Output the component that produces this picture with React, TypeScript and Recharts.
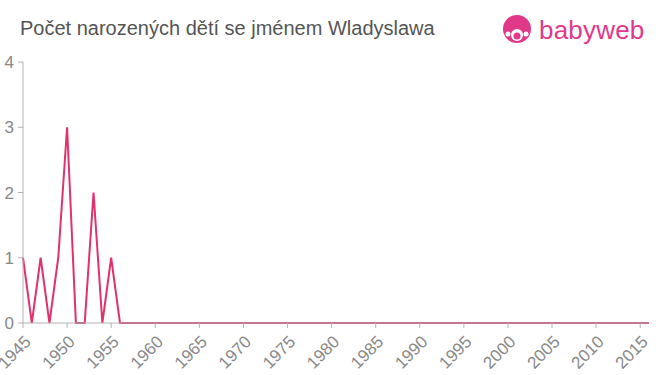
import { LineChart, Line, XAxis, YAxis } from 'recharts'

const years = Array.from({ length: 72 }, (_, i) => 1945 + i)
const births = [
  1, 0, 1, 0, 1, 3, 0, 0, 2, 0, 1, 0, 0, 0, 0, 0, 0, 0, 0, 0, 0, 0, 0, 0,
  0, 0, 0, 0, 0, 0, 0, 0, 0, 0, 0, 0, 0, 0, 0, 0, 0, 0, 0, 0, 0, 0, 0, 0,
  0, 0, 0, 0, 0, 0, 0, 0, 0, 0, 0, 0, 0, 0, 0, 0, 0, 0, 0, 0, 0, 0, 0, 0,
]
const xTicks = [1945, 1950, 1955, 1960, 1965, 1970, 1975, 1980, 1985, 1990, 1995, 2000, 2005, 2010, 2015]
const yTicks = [0, 1, 2, 3, 4]

const data = years.map((year, i) => ({ year, value: births[i] }))

const pink = '#e0336b'
const axisColor = '#b3b3b3'
const font = '"Liberation Sans", Arial, sans-serif'

function XTick({ x, y, payload }: any) {
  return (
    <text
      x={x + 5}
      y={y + 9}
      textAnchor="end"
      fill="#888"
      fontSize={17}
      fontFamily={font}
      transform={`rotate(-45, ${x + 5}, ${y + 9})`}
      dominantBaseline="central"
    >
      {payload.value}
    </text>
  )
}

function Logo() {
  return (
    <div style={{ position: 'absolute', left: 501, top: 14, display: 'flex', alignItems: 'center' }}>
      <svg width={32} height={32} viewBox="0 0 32 32">
        <circle cx={16} cy={15} r={14} fill="#e0398a" />
        <circle cx={16} cy={21} r={6} fill="#fff" />
        <circle cx={16} cy={22} r={3.5} fill="#e0398a" />
        <circle cx={7} cy={20} r={2.5} fill="#fff" />
        <circle cx={25} cy={20} r={2.5} fill="#fff" />
      </svg>
      <span style={{ color: '#e0398a', fontFamily: font, fontSize: 26, marginLeft: 6, letterSpacing: 0.2 }}>
        babyweb
      </span>
    </div>
  )
}

export default function App() {
  return (
    <div style={{ position: 'absolute', left: 0, top: 0, width: 660, height: 375, background: '#fff', overflow: 'hidden' }}>
      <div
        style={{
          position: 'absolute',
          left: 20,
          top: 17,
          fontFamily: font,
          fontSize: 20,
          color: '#555',
          whiteSpace: 'nowrap',
        }}
      >
        Počet narozených dětí se jménem Wladyslawa
      </div>
      <Logo />
      <LineChart width={660} height={375} data={data} margin={{ top: 62, right: 11, left: 0, bottom: 0 }}>
        <XAxis
          dataKey="year"
          type="number"
          domain={[1945, 2016]}
          ticks={xTicks}
          interval={0}
          stroke={axisColor}
          tickSize={5}
          height={52}
          tick={<XTick />}
        />
        <YAxis
          domain={[0, 4]}
          ticks={yTicks}
          width={23}
          stroke={axisColor}
          tickSize={5}
          tickMargin={4}
          tick={{ fill: '#888', fontSize: 17, fontFamily: font }}
        />
        <Line
          dataKey="value"
          stroke={pink}
          strokeWidth={2}
          dot={false}
          type="linear"
          isAnimationActive={false}
        />
      </LineChart>
    </div>
  )
}
